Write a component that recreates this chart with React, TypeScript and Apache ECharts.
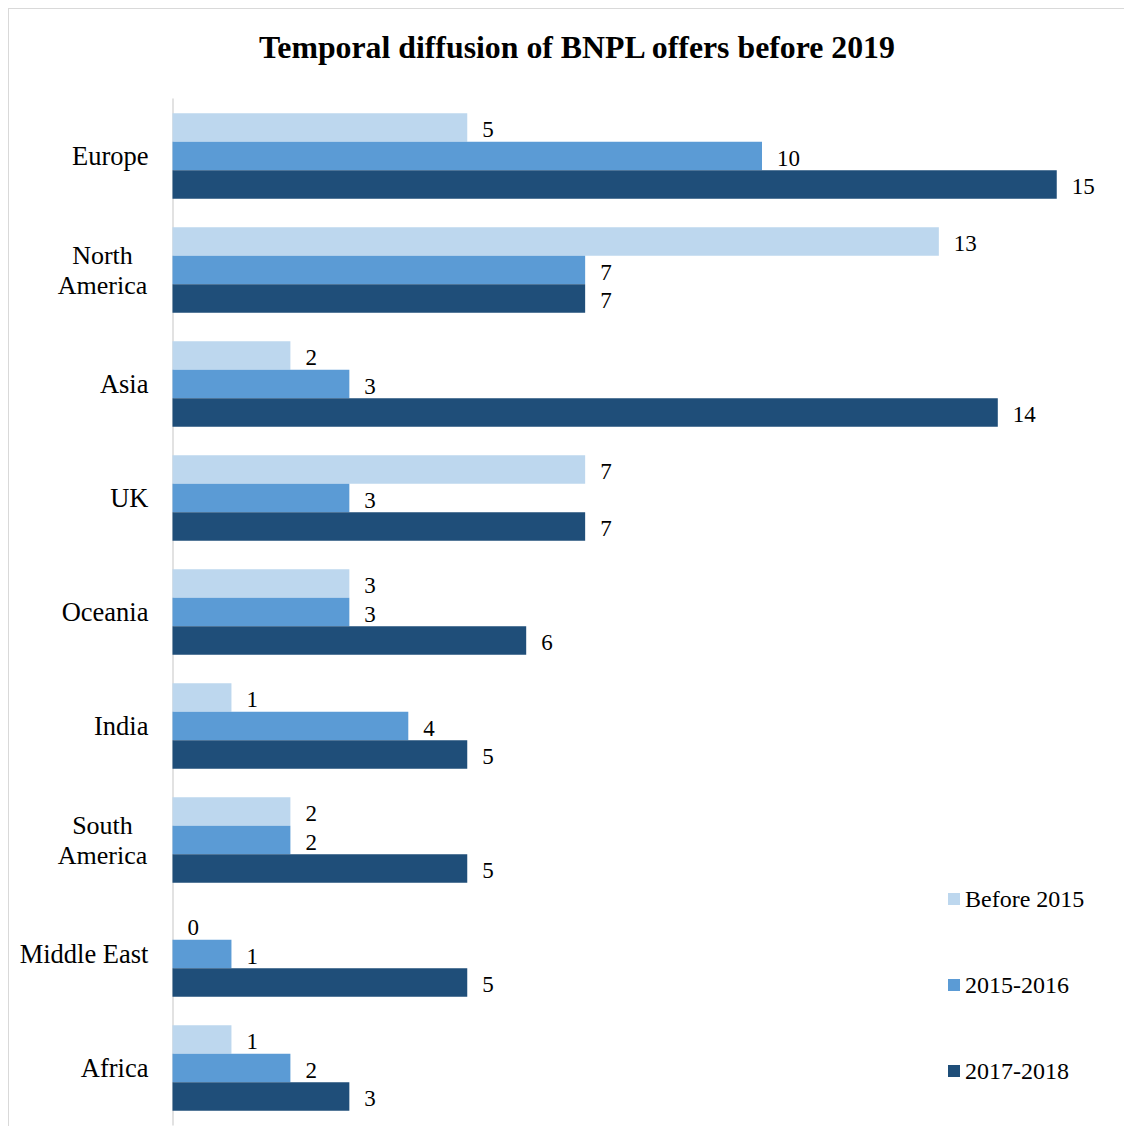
import React, { useEffect, useRef } from "react";
import * as echarts from "echarts";

const categories = [
  "Europe",
  "North\nAmerica",
  "Asia",
  "UK",
  "Oceania",
  "India",
  "South\nAmerica",
  "Middle East",
  "Africa",
];
const seriesNames = ["Before 2015", "2015-2016", "2017-2018"];
const before2015 = [5, 13, 2, 7, 3, 1, 2, 0, 1];
const y2015_2016 = [10, 7, 3, 3, 3, 4, 2, 1, 2];
const y2017_2018 = [15, 7, 14, 7, 6, 5, 5, 5, 3];
const colors = ["#BDD7EE", "#5B9BD5", "#1F4E79"];

const FONT = "'Liberation Serif', 'Times New Roman', serif";

export default function App() {
  const ref = useRef<HTMLDivElement>(null);
  useEffect(() => {
    if (!ref.current) return;
    const chart = echarts.init(ref.current, null, { renderer: "svg" });
    const values = [before2015, y2015_2016, y2017_2018];
    chart.setOption({
      animation: false,
      backgroundColor: "#ffffff",
      textStyle: { fontFamily: FONT },
      title: {
        text: "Temporal diffusion of BNPL offers before 2019",
        left: 245,
        top: 17,
        textStyle: {
          fontFamily: FONT,
          fontWeight: "bold",
          fontSize: 31.8,
          color: "#000",
        },
      },
      legend: {
        orient: "vertical",
        left: 934,
        top: 873,
        itemWidth: 12,
        itemHeight: 12,
        itemGap: 62,
        icon: "rect",
        data: seriesNames,
        textStyle: {
          fontFamily: FONT,
          fontSize: 24,
          lineHeight: 24,
          color: "#000",
        },
      },
      grid: { left: 163.5, top: 90, bottom: 1, right: 16.3, containLabel: false },
      xAxis: {
        type: "value",
        min: 0,
        max: 16,
        show: false,
      },
      yAxis: {
        type: "category",
        inverse: true,
        data: categories,
        axisLine: { show: true, lineStyle: { color: "#d9d9d9", width: 1.5 } },
        axisTick: { show: false },
        axisLabel: {
          margin: 24,
          color: "#000",
          fontFamily: FONT,
          fontSize: 26,
          formatter: (v: string) =>
            v.indexOf("\n") >= 0
              ? v
                  .split("\n")
                  .map((s) => `{c|${s}}`)
                  .join("\n")
              : `{r|${v}}`,
          rich: {
            c: {
              width: 92,
              align: "center",
              fontFamily: FONT,
              fontSize: 26,
              lineHeight: 30,
              color: "#000",
            },
            r: {
              fontFamily: FONT,
              fontSize: 26.5,
              lineHeight: 30,
              color: "#000",
            },
          },
        },
      },
      series: seriesNames.map((name, i) => ({
        name,
        type: "bar",
        data: values[i],
        barGap: "0%",
        barCategoryGap: "25%",
        itemStyle: { color: colors[i] },
        label: {
          show: true,
          position: "right",
          distance: 15,
          offset: [0, 2],
          color: "#000",
          fontFamily: FONT,
          fontSize: 23,
        },
      })),
    });
    return () => chart.dispose();
  }, []);
  return (
    <div
      style={{
        width: 1124,
        height: 1118,
        borderTop: "1px solid #d9d9d9",
        borderLeft: "1px solid #d9d9d9",
        boxSizing: "border-box",
      }}
    >
      <div ref={ref} style={{ width: "100%", height: "100%" }} />
    </div>
  );
}
